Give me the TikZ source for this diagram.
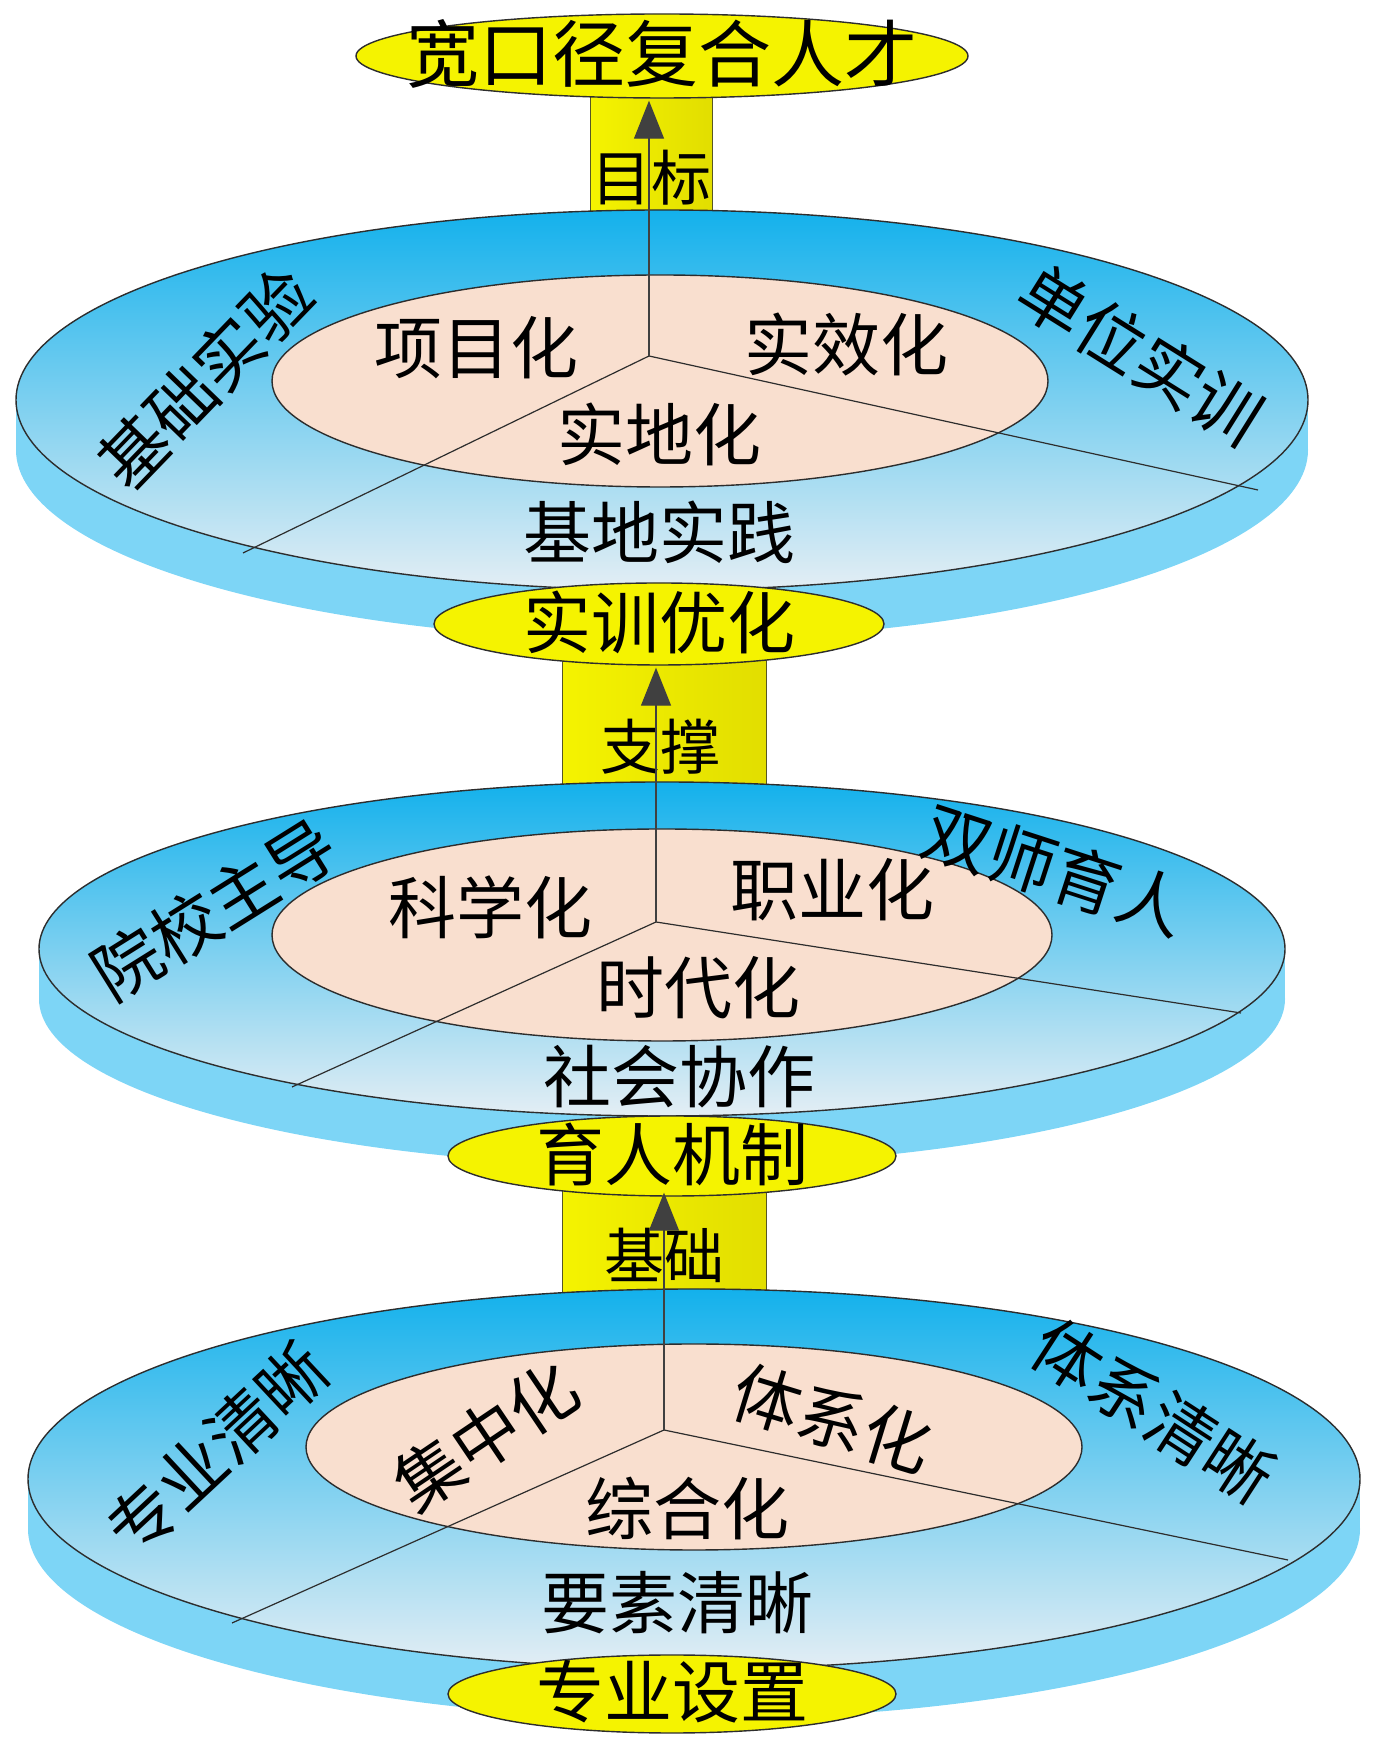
\documentclass[tikz,border=0pt]{standalone}
\usepackage{fontspec}
\setmainfont{Noto Sans CJK SC}
\usetikzlibrary{shapes.geometric,arrows.meta}
\definecolor{facetop}{RGB}{19,177,236}
\definecolor{facebot}{RGB}{228,238,244}
\definecolor{sidecol}{RGB}{125,213,246}
\definecolor{innercol}{RGB}{249,223,207}
\definecolor{yel}{RGB}{245,243,0}
\definecolor{yeldark}{RGB}{226,222,0}
\definecolor{edge}{RGB}{45,45,45}
\definecolor{arrowcol}{RGB}{64,64,64}
\tikzset{
  face/.style={draw=edge, line width=1.4pt, top color=facetop, bottom color=facebot},
  sidefill/.style={fill=sidecol, draw=none},
  inner/.style={draw=edge, line width=1.4pt, fill=innercol},
  spoke/.style={draw=edge, line width=1.2pt},
  goalnode/.style={ellipse, draw=edge, line width=1.4pt, fill=yel, inner sep=0pt},
  stembox/.style={draw=edge!80!yellow, line width=1pt, left color=yel, right color=yeldark},
  uparrow/.style={draw=arrowcol, line width=1.3pt, -{Triangle[length=38pt,width=30pt]}},
  big/.style={font=\fontsize{68}{70}\selectfont, inner sep=0pt},
  title/.style={font=\fontsize{73}{75}\selectfont, inner sep=0pt},
  stemtxt/.style={font=\fontsize{60}{62}\selectfont, inner sep=0pt},
}
\begin{document}
\begin{tikzpicture}[x=1pt,y=1pt]
\useasboundingbox (0,0) rectangle (1378,1746);

% ---- stem 1 and goal ----
\path[stembox] (590,1531) rectangle (712,1680);
\node[goalnode, minimum width=612pt, minimum height=84pt] (goal) at (662,1690) {};
\node[title] (goaltxt) at (662,1692) {宽口径复合人才};

% ---- tier 1 ----
\path[sidefill] (662,1296) ellipse [x radius=646pt, y radius=190pt];
\path[sidefill] (16,1296) rectangle (1308,1346);
\path[face] (662,1346) ellipse [x radius=646pt, y radius=190pt];
\path[inner] (660,1365) ellipse [x radius=388pt, y radius=106pt];
\coordinate (c1) at (649,1390);
\coordinate (l1) at (243,1193);
\coordinate (r1) at (1258,1256);
\draw[spoke] (c1) -- (l1);
\draw[spoke] (c1) -- (r1);
\node[big] (t1a) at (476,1398) {项目化};
\node[big] (t1b) at (846,1401) {实效化};
\node[big] (t1c) at (659,1312) {实地化};
\node[big] (t1d) at (659,1214) {基地实践};
\node[big, rotate=46] (t1e) at (205,1368) {基础实验};
\node[big, rotate=-32] (t1f) at (1141,1392) {单位实训};
\node[stemtxt] (s1) at (651,1568) {目标};
\draw[uparrow] (c1) -- ([yshift=-2pt]c1 |- goal.south);

% ---- stem 2 and 实训优化 ----
\path[stembox] (562,956) rectangle (766,1090);
\node[goalnode, minimum width=450pt, minimum height=82pt] (g2) at (659,1122) {};
\node[big] (g2txt) at (659,1124) {实训优化};

% ---- tier 2 ----
\path[sidefill] (662,747) ellipse [x radius=623pt, y radius=167pt];
\path[sidefill] (39,747) rectangle (1285,797);
\path[face] (662,797) ellipse [x radius=623pt, y radius=167pt];
\path[inner] (662,811) ellipse [x radius=390pt, y radius=106pt];
\coordinate (c2) at (656,824);
\coordinate (l2) at (292,659);
\coordinate (r2) at (1241,733);
\draw[spoke] (c2) -- (l2);
\draw[spoke] (c2) -- (r2);
\node[big] (t2a) at (490,839) {科学化};
\node[big] (t2b) at (832,856) {职业化};
\node[big] (t2c) at (698,758) {时代化};
\node[big] (t2d) at (679,669) {社会协作};
\node[big, rotate=32] (t2e) at (214,837) {院校主导};
\node[big, rotate=-18] (t2f) at (1055,876) {双师育人};
\node[stemtxt] (s2) at (660,999) {支撑};
\draw[uparrow] (c2) -- ([yshift=-2pt]c2 |- g2.south);

% ---- stem 3 and 育人机制 ----
\path[stembox] (562,446) rectangle (766,560);
\node[goalnode, minimum width=448pt, minimum height=80pt] (g3) at (672,590) {};
\node[big] (g3txt) at (672,592) {育人机制};

% ---- tier 3 ----
\path[sidefill] (694,217) ellipse [x radius=666pt, y radius=190pt];
\path[sidefill] (28,217) rectangle (1360,267);
\path[face] (694,267) ellipse [x radius=666pt, y radius=190pt];
\path[inner] (694,299) ellipse [x radius=388pt, y radius=103pt];
\coordinate (c3) at (664,316);
\coordinate (l3) at (232,123);
\coordinate (r3) at (1288,186);
\draw[spoke] (c3) -- (l3);
\draw[spoke] (c3) -- (r3);
\node[big, rotate=34] (t3a) at (486,310) {集中化};
\node[big, rotate=-17] (t3b) at (833,327) {体系化};
\node[big] (t3c) at (687,238) {综合化};
\node[big] (t3d) at (677,143) {要素清晰};
\node[big, rotate=43] (t3e) at (217,297) {专业清晰};
\node[big, rotate=-33] (t3f) at (1154,335) {体系清晰};
\node[stemtxt] (s3) at (664,491) {基础};
\draw[uparrow] (c3) -- ([yshift=4pt]c3 |- g3.south);

% ---- bottom goal ----
\node[goalnode, minimum width=448pt, minimum height=78pt] (g4) at (672,52) {};
\node[big] (g4txt) at (672,54) {专业设置};
\end{tikzpicture}
\end{document}
